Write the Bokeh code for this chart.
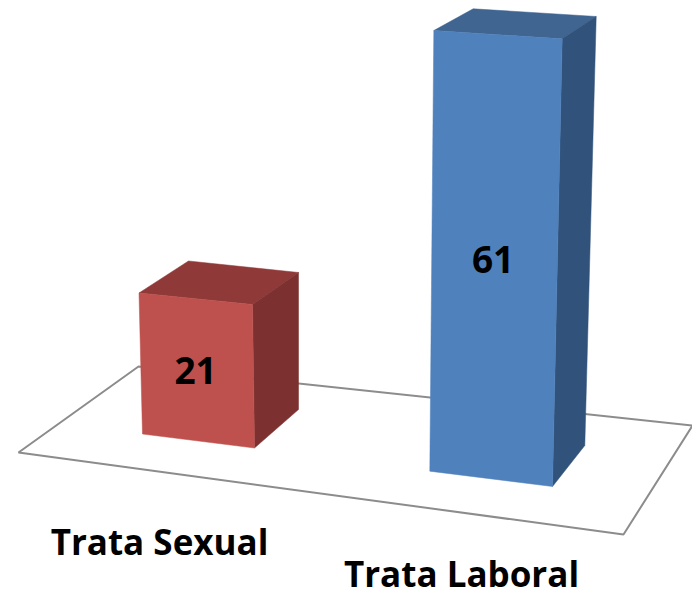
from bokeh.plotting import figure
from bokeh.embed import file_html
from bokeh.resources import INLINE
from bokeh.models import Range1d
from bokeh.core.properties import value

categories = ["Trata Sexual", "Trata Laboral"]
values = [21, 61]
front_colors = ["#BE504D", "#4F81BD"]
top_colors = ["#8F3A38", "#3F6590"]
side_colors = ["#7C3130", "#31527A"]

# Projection of the drawing: floor position of each bar corner, and how far a corner moves per unit of value
# order of corners: front-left, front-right, back-right, back-left
BASES = [
    [(142, 433.5), (254, 447.5), (298, 409), (186, 395)],
    [(429.3, 470.7), (552, 486), (584.3, 445), (462, 430)],
]
RISE = [
    [(-0.167, -6.714), (-0.095, -6.833), (0, -6.524), (0.095, -6.405)],
    [(0.066, -7.224), (0.159, -7.339), (0.187, -7.033), (0.175, -6.913)],
]
FLOOR_X = [18, 138, 692, 623]
FLOOR_Y = [452, 366, 425, 534]
CAT_X = [159, 461]
CAT_Y = [541, 573]
LABEL_DX = -1.5
LABEL_DY = [1, 3]

p = figure(width=692, height=597, output_backend="svg", toolbar_location=None,
           x_range=Range1d(0, 692), y_range=Range1d(597, 0),
           min_border=0, outline_line_color=None, background_fill_color="white",
           border_fill_color="white")
p.axis.visible = False
p.grid.visible = False

p.patch(FLOOR_X, FLOOR_Y, fill_color="white", line_color="#8C8C8C", line_width=2)

for i, v in enumerate(values):
    base = BASES[i]
    top = [(bx + rx * v, by + ry * v) for (bx, by), (rx, ry) in zip(base, RISE[i])]
    fl, fr, br, bl = base
    tfl, tfr, tbr, tbl = top
    faces = [
        ([tfl, tbl, tbr, tfr], top_colors[i]),
        ([tfr, tbr, br, fr], side_colors[i]),
        ([tfl, tfr, fr, fl], front_colors[i]),
    ]
    for pts, col in faces:
        p.patch([q[0] for q in pts], [q[1] for q in pts], fill_color=col, line_color=col, line_width=0.5)
    cx = (tfl[0] + tfr[0] + fr[0] + fl[0]) / 4 + LABEL_DX
    cy = (tfl[1] + tfr[1] + fr[1] + fl[1]) / 4 + LABEL_DY[i]
    p.text([cx], [cy], text=[str(v)], text_font=value("Open Sans"), text_font_style="bold",
           text_font_size="37px", text_color="black", text_align="center", text_baseline="middle")

p.text(CAT_X, CAT_Y, text=categories, text_font=value("Open Sans"), text_font_style="bold",
       text_font_size="35px", text_color="black", text_align="center", text_baseline="middle")

open("out.html", "w").write(file_html(p, INLINE))
